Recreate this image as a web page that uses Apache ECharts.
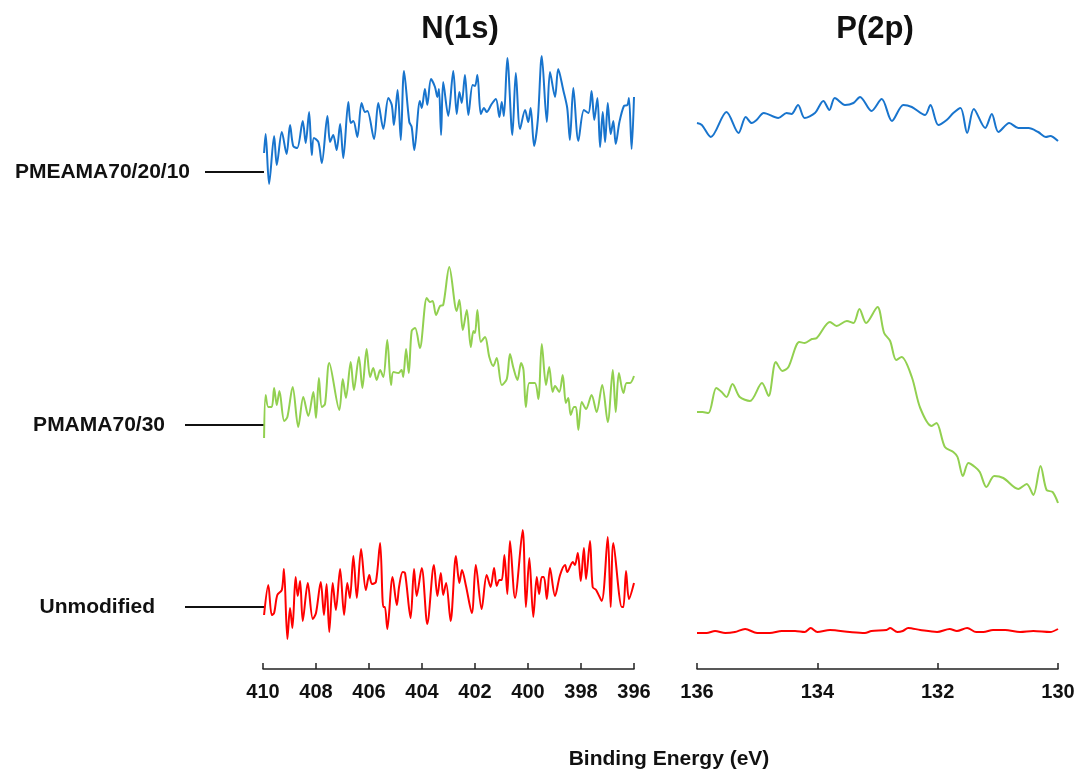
<!DOCTYPE html>
<html>
<head>
<meta charset="utf-8">
<script src="https://cdn.jsdelivr.net/npm/echarts@6/dist/echarts.min.js"></script>
<style>
html,body{margin:0;padding:0;background:#fff;}
#c{width:1084px;height:774px;}
</style>
</head>
<body>
<div id="c"></div>
<script>
// ---- Data (binding energy eV, intensity in arbitrary offset units) ----
const sampleNames = ['PMEAMA70/20/10', 'PMAMA70/30', 'Unmodified'];
const n1sTicks = [410, 408, 406, 404, 402, 400, 398, 396];
const p2pTicks = [136, 134, 132, 130];

const n1sPMEAMA = [[409.96,516],[409.90,535],[409.77,485],[409.58,533],[409.48,504],[409.29,537],[409.11,515],[408.98,544],[408.86,523],[408.71,521],[408.50,548],[408.39,526],[408.26,557],[408.16,514],[408.08,531],[407.91,527],[407.78,506],[407.57,553],[407.47,527],[407.35,534],[407.22,519],[407.09,545],[406.97,511],[406.78,567],[406.69,546],[406.59,548],[406.44,532],[406.28,566],[406.15,557],[406.06,558],[405.81,530],[405.65,566],[405.46,540],[405.27,571],[405.14,564],[405.06,544],[404.92,579],[404.80,529],[404.68,598],[404.48,547],[404.39,542],[404.29,519],[404.08,568],[404.01,561],[403.89,580],[403.80,564],[403.66,590],[403.51,582],[403.42,572],[403.36,580],[403.28,534],[403.20,587],[403.01,553],[402.82,598],[402.69,555],[402.59,577],[402.50,566],[402.38,594],[402.25,554],[402.09,584],[402.00,583],[401.91,594],[401.78,555],[401.66,561],[401.56,557],[401.37,565],[401.21,570],[401.08,552],[400.99,567],[400.91,553],[400.78,611],[400.59,534],[400.46,596],[400.30,540],[400.11,559],[399.99,547],[399.90,561],[399.77,523],[399.63,549],[399.48,613],[399.29,547],[399.17,597],[398.98,572],[398.86,600],[398.67,579],[398.52,561],[398.42,529],[398.29,581],[398.10,528],[397.89,559],[397.72,556],[397.60,578],[397.50,549],[397.38,571],[397.28,522],[397.18,557],[397.09,527],[396.99,566],[396.88,535],[396.78,548],[396.69,525],[396.55,547],[396.38,563],[396.25,564],[396.19,571],[396.09,520],[396.00,572]];

const n1sPMAMA = [[409.96,231],[409.90,274],[409.80,262],[409.67,262],[409.58,281],[409.48,264],[409.38,278],[409.20,248],[409.08,252],[408.88,282],[408.67,242],[408.48,272],[408.29,253],[408.10,277],[408.00,251],[407.89,291],[407.78,262],[407.66,265],[407.50,306],[407.12,259],[406.99,290],[406.87,271],[406.69,307],[406.57,279],[406.38,312],[406.25,281],[406.09,320],[405.96,292],[405.84,301],[405.71,289],[405.58,299],[405.46,292],[405.31,329],[405.17,284],[405.08,297],[404.89,296],[404.77,299],[404.71,292],[404.60,320],[404.50,296],[404.39,338],[404.26,341],[404.08,321],[403.82,371],[403.70,367],[403.60,368],[403.47,354],[403.32,363],[403.20,364],[402.97,402],[402.69,358],[402.59,369],[402.46,339],[402.31,359],[402.16,322],[402.06,338],[402.00,336],[401.91,359],[401.78,327],[401.62,332],[401.46,312],[401.31,303],[401.18,311],[400.99,284],[400.80,290],[400.68,315],[400.55,301],[400.40,289],[400.26,306],[400.17,299],[400.08,262],[399.95,286],[399.74,286],[399.61,270],[399.48,325],[399.32,284],[399.20,302],[399.07,277],[398.98,283],[398.82,277],[398.69,294],[398.57,266],[398.48,271],[398.39,254],[398.26,262],[398.19,262],[398.10,239],[397.97,267],[397.81,260],[397.60,274],[397.41,257],[397.20,284],[396.99,247],[396.80,299],[396.69,257],[396.57,296],[396.40,276],[396.28,286],[396.15,286],[396.00,293]];

const n1sUnmod = [[409.96,54],[409.80,84],[409.67,54],[409.58,56],[409.46,74],[409.29,79],[409.21,100],[409.08,30],[408.98,61],[408.89,41],[408.77,92],[408.69,73],[408.60,88],[408.50,48],[408.31,86],[408.12,50],[408.00,56],[407.82,87],[407.70,54],[407.60,85],[407.50,37],[407.37,86],[407.25,59],[407.09,100],[406.94,54],[406.82,86],[406.72,71],[406.59,113],[406.46,71],[406.30,120],[406.12,79],[405.99,94],[405.89,85],[405.74,87],[405.58,126],[405.46,62],[405.40,62],[405.31,40],[405.11,92],[404.95,64],[404.86,83],[404.73,97],[404.64,96],[404.43,51],[404.30,100],[404.20,73],[404.01,101],[403.80,45],[403.55,104],[403.42,73],[403.29,96],[403.20,74],[403.09,86],[402.92,48],[402.72,113],[402.59,86],[402.49,99],[402.34,83],[402.12,56],[401.97,104],[401.75,60],[401.56,94],[401.41,82],[401.28,101],[401.18,83],[401.08,89],[400.99,89],[400.89,114],[400.78,75],[400.68,128],[400.49,71],[400.20,139],[400.08,62],[399.95,111],[399.80,52],[399.67,92],[399.58,75],[399.48,92],[399.40,92],[399.29,70],[399.17,101],[398.98,73],[398.79,94],[398.60,104],[398.52,97],[398.31,107],[398.23,104],[398.12,116],[398.01,88],[397.89,121],[397.81,90],[397.66,128],[397.56,82],[397.43,79],[397.22,68],[396.99,132],[396.88,62],[396.78,126],[396.46,62],[396.40,62],[396.30,98],[396.19,70],[396.00,86]];

const p2pPMEAMA = [[136.00,546],[135.92,544],[135.77,532],[135.51,557],[135.31,536],[135.19,552],[135.09,546],[135.01,549],[134.89,556],[134.65,551],[134.51,556],[134.43,555],[134.32,564],[134.21,551],[134.04,556],[133.90,568],[133.80,559],[133.71,571],[133.54,564],[133.40,566],[133.29,572],[133.10,558],[132.93,570],[132.76,548],[132.57,564],[132.43,562],[132.21,554],[132.12,564],[131.99,544],[131.85,549],[131.74,556],[131.62,561],[131.51,536],[131.40,560],[131.21,541],[131.10,555],[130.99,537],[130.81,546],[130.66,541],[130.49,541],[130.33,537],[130.20,532],[130.13,533],[130.00,528]];

const p2pPMAMA = [[136.00,257],[135.91,257],[135.81,256],[135.68,281],[135.59,277],[135.51,272],[135.41,285],[135.29,272],[135.12,268],[134.92,286],[134.81,273],[134.69,307],[134.58,298],[134.48,302],[134.30,327],[134.21,326],[134.09,330],[134.01,331],[133.79,347],[133.68,343],[133.51,348],[133.40,346],[133.30,360],[133.19,346],[133.00,362],[132.89,336],[132.79,328],[132.69,309],[132.60,312],[132.43,292],[132.29,261],[132.10,243],[132.02,246],[131.88,222],[131.74,217],[131.67,212],[131.58,193],[131.49,206],[131.38,202],[131.30,197],[131.19,182],[131.06,193],[130.91,191],[130.66,180],[130.52,185],[130.41,174],[130.29,203],[130.19,179],[130.09,177],[130.00,166]];

const p2pUnmod = [[136.00,36],[135.84,36],[135.70,38],[135.53,36],[135.37,37],[135.20,40],[135.00,36],[134.79,36],[134.59,38],[134.37,38],[134.21,37],[134.11,41],[134.00,37],[133.79,39],[133.46,37],[133.21,36],[133.10,38],[132.85,39],[132.79,41],[132.67,37],[132.58,38],[132.49,41],[132.29,39],[132.01,37],[131.80,40],[131.68,38],[131.51,41],[131.36,37],[131.24,37],[131.08,39],[130.88,39],[130.63,37],[130.41,38],[130.13,37],[130.00,40]];

const seriesColors = ['#1874CD', '#92D050', '#FF0000'];

// ---- Chart ----
const chart = echarts.init(document.getElementById('c'), null, {renderer: 'canvas'});
const FONT = '"Liberation Sans", Arial, sans-serif';

function xAxisFor(gridIndex, ticks) {
  return {
    type: 'value', gridIndex: gridIndex, inverse: true,
    min: Math.min(...ticks), max: Math.max(...ticks), interval: 2,
    axisLine: {show: true, lineStyle: {color: '#222', width: 1.5}},
    axisTick: {show: true, inside: true, length: 6, lineStyle: {color: '#222', width: 1.5}},
    axisLabel: {color: '#111', fontWeight: 'bold', fontSize: 20, fontFamily: FONT, margin: 13},
    splitLine: {show: false}
  };
}
function yAxisFor(gridIndex) {
  return {type: 'value', gridIndex: gridIndex, min: 0, max: 629, show: false, splitLine: {show: false}};
}
function line(name, data, idx, color) {
  return {
    type: 'line', name: name, data: data, xAxisIndex: idx, yAxisIndex: idx,
    showSymbol: false, smooth: 0.3, lineStyle: {color: color, width: 2}, itemStyle: {color: color},
    animation: false
  };
}

const labelY = [172, 425, 607];
const lineStart = [205, 185, 185];

const graphics = [
  {type: 'text', x: 460, y: 29, style: {text: 'N(1s)', font: 'bold 31px ' + FONT, fill: '#111', textAlign: 'center', textVerticalAlign: 'middle'}},
  {type: 'text', x: 875, y: 29, style: {text: 'P(2p)', font: 'bold 31px ' + FONT, fill: '#111', textAlign: 'center', textVerticalAlign: 'middle'}},
  {type: 'text', x: 669, y: 759, style: {text: 'Binding Energy (eV)', font: 'bold 21px ' + FONT, fill: '#111', textAlign: 'center', textVerticalAlign: 'middle'}}
];
const labelRight = [190, 165, 155];
sampleNames.forEach(function (n, i) {
  graphics.push({type: 'text', x: labelRight[i], y: labelY[i], style: {text: n, font: 'bold 21px ' + FONT, fill: '#111', textAlign: 'right', textVerticalAlign: 'middle'}});
  graphics.push({type: 'line', shape: {x1: lineStart[i], y1: labelY[i], x2: 264, y2: labelY[i]}, style: {stroke: '#111', lineWidth: 2}});
});

chart.setOption({
  backgroundColor: '#fff',
  animation: false,
  grid: [
    {left: 263, width: 371, top: 40, bottom: 105},
    {left: 697, width: 361, top: 40, bottom: 105}
  ],
  xAxis: [xAxisFor(0, n1sTicks), xAxisFor(1, p2pTicks)],
  yAxis: [yAxisFor(0), yAxisFor(1)],
  series: [
    line(sampleNames[0] + ' N(1s)', n1sPMEAMA, 0, seriesColors[0]),
    line(sampleNames[1] + ' N(1s)', n1sPMAMA, 0, seriesColors[1]),
    line(sampleNames[2] + ' N(1s)', n1sUnmod, 0, seriesColors[2]),
    line(sampleNames[0] + ' P(2p)', p2pPMEAMA, 1, seriesColors[0]),
    line(sampleNames[1] + ' P(2p)', p2pPMAMA, 1, seriesColors[1]),
    line(sampleNames[2] + ' P(2p)', p2pUnmod, 1, seriesColors[2])
  ],
  graphic: graphics
});
</script>
</body>
</html>
